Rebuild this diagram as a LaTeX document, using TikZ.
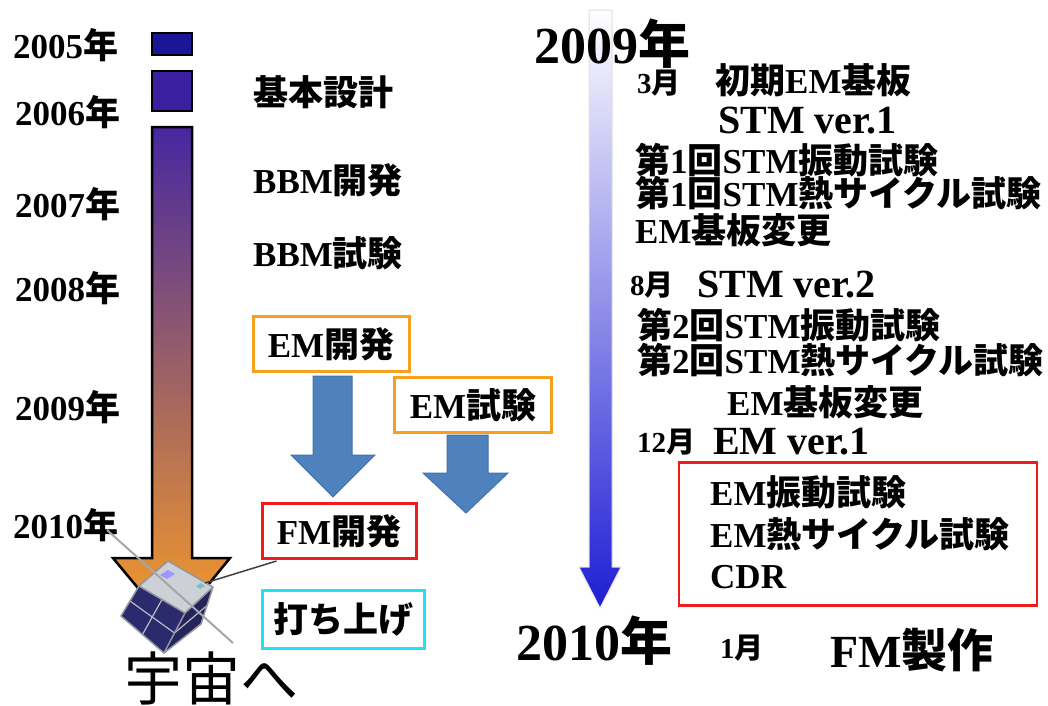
\documentclass[tikz,border=0pt]{standalone}
\usepackage{fontspec}
\setmainfont{Liberation Serif}
\newfontfamily\jafont{Noto Sans CJK JP}
% kana and kanji switch to the Japanese face on their own
\XeTeXinterchartokenstate=1
\newXeTeXintercharclass\jaclass
\newcount\jacode
\jacode="3000
\loop
  \XeTeXcharclass\jacode=\jaclass
  \advance\jacode by 1
\ifnum\jacode<"A000 \repeat
\XeTeXinterchartoks 0 \jaclass = {\begingroup\jafont}
\XeTeXinterchartoks 4095 \jaclass = {\begingroup\jafont}
\XeTeXinterchartoks \jaclass 0 = {\endgroup}
\XeTeXinterchartoks \jaclass 4095 = {\endgroup}
\usepackage{tikz}
\usetikzlibrary{positioning, calc}
\definecolor{emOrange}{HTML}{F7A01E}
\definecolor{fmRed}{HTML}{EE1C1C}
\definecolor{launchCyan}{HTML}{22E2EE}
\definecolor{flowBlue}{HTML}{4F81BD}
\definecolor{flowEdge}{HTML}{4372AA}
\definecolor{panelNavy}{HTML}{2A2A6C}
\definecolor{frameGray}{HTML}{B8BCC4}
\tikzset{
  year/.style={font=\fontsize{35}{38}\selectfont\bfseries, anchor=west, inner sep=0pt},
  item/.style={font=\fontsize{35}{38}\selectfont\bfseries, anchor=west, inner sep=0pt},
  month/.style={font=\fontsize{29}{32}\selectfont\bfseries, anchor=west, inner sep=0pt},
  ver/.style={font=\fontsize{40}{44}\selectfont\bfseries, anchor=west, inner sep=0pt},
  bigyear/.style={font=\fontsize{52}{56}\selectfont\bfseries, inner sep=0pt},
  phase/.style={draw, line width=3pt, fill=white, inner sep=0pt, minimum height=55pt,
    font=\fontsize{35}{38}\selectfont\bfseries},
  flow/.style={fill=flowBlue, draw=flowEdge, line width=1pt},
}

\begin{document}
\begin{tikzpicture}[x=1pt, y=-1pt]
        \useasboundingbox (0,0) rectangle (1048,705);

        % Year scale on the left
        \node[year] (y05) at (13,45) {2005年};
        \node[year] (y06) at (15,112) {2006年};
        \node[year] (y07) at (15,204) {2007年};
        \node[year] (y08) at (15,288) {2008年};
        \node[year] (y09) at (15,407) {2009年};
        \node[year] (y10) at (13,525) {2010年};

        % Early blocks and the long timeline arrow
        \path[fill={rgb,255:red,26;green,22;blue,150}, draw=black, line width=2.5pt] (152,33) rectangle (192,55);
        \path[fill={rgb,255:red,58;green,32;blue,160}, draw=black, line width=2.5pt] (152,71) rectangle (192,111);
        \path[draw=black, line width=2.5pt,
              top color={rgb,255:red,70;green,40;blue,160},
              middle color={rgb,255:red,196;green,116;blue,104},
              bottom color={rgb,255:red,247;green,156;blue,40}]
          (152,127) -- (192,127) -- (192,558) -- (230,558) -- (172,629) -- (113,558) -- (152,558) -- cycle;

        % Phases
        \node[item] (basic) at (253,92) {基本設計};
        \node[item] (bbmdev) at (253,180) {BBM開発};
        \node[item] (bbmtest) at (253,253) {BBM試験};
        \node[phase, draw=emOrange, minimum width=156pt] (emdev) at (331,344) {EM開発};
        \node[phase, draw=emOrange, minimum width=157pt] (emtest) at (473,405) {EM試験};
        \node[phase, draw=fmRed, minimum width=154pt] (fmdev) at (339,531) {FM開発};
        \node[phase, draw=launchCyan, minimum width=162pt, minimum height=58pt] (launch) at (343,619) {打ち上げ};

        % Block arrows from EM to FM
        \path[flow] (313,376) -- (352,376) -- (352,455) -- (375,455) -- (333,497) -- (291,455) -- (313,455) -- cycle;
        \path[flow] (447,435) -- (488,435) -- (488,473) -- (508,473) -- (466,513) -- (423,473) -- (447,473) -- cycle;

        % Satellite
        \coordinate (t1) at (139,586);
        \coordinate (t2) at (168,561);
        \coordinate (t3) at (213,587);
        \coordinate (t4) at (185,613);
        \coordinate (b1) at (121,616);
        \coordinate (b3) at (201,624);
        \coordinate (b4) at (164,653);
        \fill[frameGray!70] (t1) -- (t2) -- (t3) -- (t4) -- cycle;
        \fill[panelNavy] (t1) -- (t4) -- (b4) -- (b1) -- cycle;
        \fill[panelNavy!85!black] (t4) -- (t3) -- (b3) -- (b4) -- cycle;
        \draw[frameGray, line width=1.2pt] ($(t1)!0.5!(t4)$) -- ($(b1)!0.5!(b4)$);
        \draw[frameGray, line width=1.2pt] ($(t1)!0.5!(b1)$) -- ($(t4)!0.5!(b4)$);
        \draw[frameGray, line width=1.2pt] ($(t4)!0.5!(b4)$) -- ($(t3)!0.5!(b3)$);
        \draw[frameGray!80!black, line width=1.5pt, line join=round] (t1) -- (t2) -- (t3) -- (t4) -- cycle (t4) -- (b4) -- (b1) -- (t1) (t3) -- (b3) -- (b4);
        \fill[blue!40] (160,575) -- (168,570) -- (175,574) -- (167,579) -- cycle;
        \fill[teal!50] (196,586) -- (201,583) -- (205,586) -- (200,589) -- cycle;
        \coordinate (ant1) at (107,530);
        \coordinate (ant2) at (233,643);
        \draw[gray!70, line width=2pt] (ant1) -- (ant2);
        \draw[black!75, line width=1.5pt] (205,583) -- ($(fmdev.south west)+(16,1)$);
        \node[font=\fontsize{58}{60}\selectfont, inner sep=0pt] (space) at (211,678) {宇宙へ};

        % 2009 - 2010 detail timeline (arrow first, the years sit on it)
        \path[draw=gray!25, line width=1pt,
              top color=white,
              middle color={rgb,255:red,165;green,165;blue,228},
              bottom color={rgb,255:red,30;green,30;blue,212}]
          (589,10) -- (612,10) -- (612,567) -- (621,567) -- (600,608) -- (579,567) -- (589,567) -- cycle;
        \node[bigyear] (top) at (612,44) {2009年};
        \node[bigyear] (bottom) at (594,641) {2010年};

        \node[month] (m3) at (637,83) {3月};
        \node[item] (em0) at (715,80) {初期EM基板};
        \node[ver] (stm1) at (718,121) {STM ver.1};
        \node[item] (vib1) at (635,160) {第1回STM振動試験};
        \node[item] (heat1) at (635,193) {第1回STM熱サイクル試験};
        \node[item] (chg1) at (635,230) {EM基板変更};
        \node[month] (m8) at (630,285) {8月};
        \node[ver] (stm2) at (697,285) {STM ver.2};
        \node[item] (vib2) at (637,325) {第2回STM振動試験};
        \node[item] (heat2) at (637,360) {第2回STM熱サイクル試験};
        \node[item] (chg2) at (727,402) {EM基板変更};
        \node[month] (m12) at (637,442) {12月};
        \node[ver] (emv1) at (713,442) {EM ver.1};

        % EM tests before CDR
        \node[draw=fmRed, line width=2.5pt, minimum width=358pt, minimum height=143pt] (cdrbox) at (858,534) {};
        \node[item] (emvib) at (710,492) {EM振動試験};
        \node[item] (emheat) at (710,534) {EM熱サイクル試験};
        \node[item] (cdr) at (710,577) {CDR};

        \node[month] (m1) at (720,648) {1月};
        \node[font=\fontsize{46}{50}\selectfont\bfseries, anchor=west, inner sep=0pt] (fm) at (830,650) {FM製作};
    \end{tikzpicture}
\end{document}
